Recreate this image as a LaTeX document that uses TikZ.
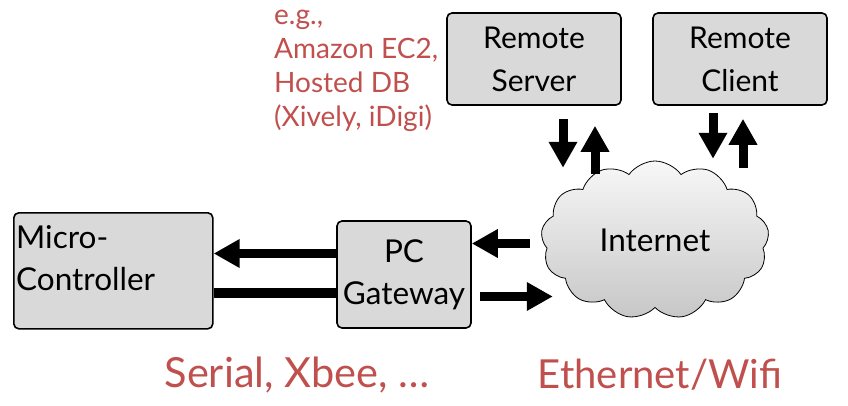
\documentclass[tikz,border=0pt]{standalone}
\usepackage{fontspec}
\setmainfont{Lato}
\usetikzlibrary{arrows.meta,positioning,shapes.symbols}
\definecolor{notered}{RGB}{192,80,77}

\begin{document}
\begin{tikzpicture}
  [
    x = 1pt,
    y = -1pt,
    box/.style = {
      draw,
      line width = 1.6pt,
      rounded corners = 5pt,
      fill = black!15,
      inner sep = 0pt,
      align = center,
    },
    flow/.style = {
      line width = 9pt,
      -{Triangle[length=26pt,width=27pt]},
    },
    link/.style = {
      line width = 10pt,
    },
    note/.style = {
      text = notered,
      inner sep = 0pt,
    },
    bigfont/.style = {
      font = \fontsize{31.5}{42}\selectfont,
    },
    remotefont/.style = {
      font = \fontsize{30}{43}\selectfont,
    },
  ]
  \useasboundingbox (0,0) rectangle (848,406);

  \node (server) [
    box,
    remotefont,
    minimum width = 174pt,
    minimum height = 92pt,
  ] at (534,59) {Remote\\Server};

  \node (client) [
    box,
    remotefont,
    minimum width = 174pt,
    minimum height = 92pt,
  ] at (740,59) {Remote\\Client};

  \node (mc) [
    box,
    minimum width = 199pt,
    minimum height = 116pt,
    anchor = north west,
  ] at (13,212) {};
  \node (mctext) [
    bigfont,
    inner sep = 0pt,
    align = left,
    anchor = base west,
  ] at (16,290) {Micro-\\Controller};

  \node (pc) [
    box,
    bigfont,
    minimum width = 134pt,
    minimum height = 107pt,
  ] at (404,274.5) {PC\\Gateway};

  \node (internet) [
    cloud,
    draw,
    line width = 0.8pt,
    cloud puffs = 13,
    cloud puff arc = 110,
    cloud ignores aspect,
    minimum width = 228pt,
    minimum height = 158pt,
    top color = black!3,
    bottom color = black!22,
    bigfont,
  ] at (655,240) {Internet};

  \node (hosts) [
    note,
    align = left,
    anchor = base west,
    font = \fontsize{28}{34}\selectfont,
  ] at (274,127) {e.g.,\\Amazon EC2,\\Hosted DB\\(Xively, iDigi)};

  \node (serial) [note, font=\fontsize{41.5}{48}\selectfont] at (297,375) {Serial, Xbee, …};
  \node (ether) [note, font=\fontsize{40}{48}\selectfont] at (660,375) {Ethernet/Wifi};

  % gateway <-> micro-controller
  \draw [flow] ([yshift=21pt] pc.west) -- ([yshift=21pt] pc.west -| mc.east);
  \draw [link] ([yshift=-18pt] pc.west) -- ([yshift=-18pt] pc.west -| mc.east);

  % internet <-> gateway
  \draw [flow] ([xshift=58pt,yshift=31pt] pc.east) -- ([yshift=31pt] pc.east);
  \draw [flow] ([xshift=8pt,yshift=-22pt] pc.east) -- ([xshift=81pt,yshift=-22pt] pc.east);

  % remote ends <-> internet
  \draw [flow] ([xshift=29pt,yshift=-13pt] server.south) -- ++(0pt,-49pt);
  \draw [flow] ([xshift=61pt,yshift=-68pt] server.south) -- ++(0pt,48pt);
  \draw [flow] ([xshift=-27pt,yshift=-7pt] client.south) -- ++(0pt,-46pt);
  \draw [flow] ([xshift=3pt,yshift=-62pt] client.south) -- ++(0pt,49pt);
\end{tikzpicture}
\end{document}
